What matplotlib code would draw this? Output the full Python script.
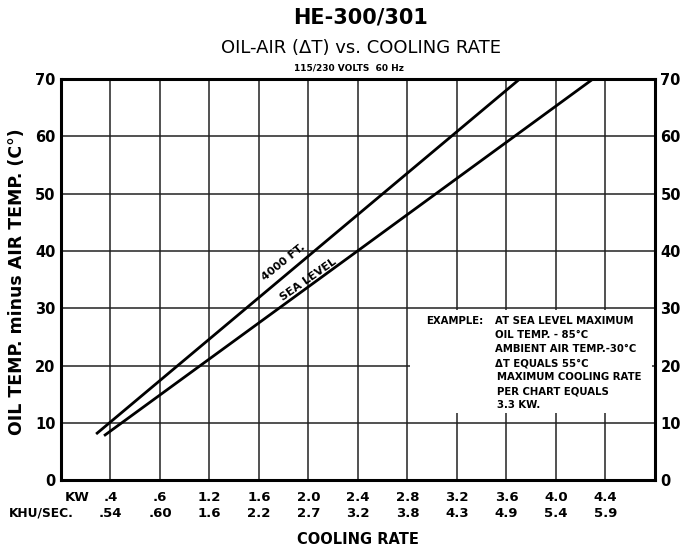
import matplotlib
matplotlib.use("Agg")
import matplotlib.pyplot as plt
from matplotlib.patches import Rectangle

# --- chart data (x in grid-column units, y in deg C) ---
kw_labels = ['.4', '.6', '1.2', '1.6', '2.0', '2.4', '2.8', '3.2', '3.6', '4.0', '4.4']
khu_labels = ['.54', '.60', '1.6', '2.2', '2.7', '3.2', '3.8', '4.3', '4.9', '5.4', '5.9']
y_ticks = [0, 10, 20, 30, 40, 50, 60, 70]

# straight lines: start point, the crossing read at 40, end at top border
ft4000_x = [0.71, 5.12, 9.27]
ft4000_y = [8.1, 40, 70]
sea_x = [0.87, 5.99, 10.75]
sea_y = [7.8, 40, 70]

example_lines = ['AT SEA LEVEL MAXIMUM', 'OIL TEMP. - 85°C', 'AMBIENT AIR TEMP.-30°C',
                 'ΔT EQUALS 55°C', 'MAXIMUM COOLING RATE', 'PER CHART EQUALS', '3.3 KW.']

plt.rcParams['font.family'] = ['DejaVu Sans']

fig = plt.figure(figsize=(6.85, 5.47), dpi=100)
ax = fig.add_axes([0.089, 0.1216, 0.867, 0.734])

ax.set_xlim(0, 12)
ax.set_ylim(0, 70)

# --- grid ---
for gx in range(1, 12):
    ax.axvline(gx, color='#222222', lw=1.1, zorder=1)
for gy in y_ticks[1:-1]:
    ax.axhline(gy, color='#222222', lw=1.1, zorder=1)

# white box behind the example note
ax.add_patch(Rectangle((7.05, 11.8), 4.9, 18.0, facecolor='white', edgecolor='none', zorder=2))

# --- curves ---
ax.plot(ft4000_x, ft4000_y, color='black', lw=2, zorder=3, solid_capstyle='butt')
ax.plot(sea_x, sea_y, color='black', lw=2, zorder=3, solid_capstyle='butt')

ax.text(4.5, 38.0, '4000 FT.', rotation=39, ha='center', va='center',
        fontsize=8, fontweight='bold', zorder=4)
ax.text(5.0, 35.0, 'SEA LEVEL', rotation=35, ha='center', va='center',
        fontsize=8, fontweight='bold', zorder=4)

# --- example note ---
ax.text(7.37, 27.8, 'EXAMPLE:', ha='left', va='center', fontsize=7.3,
        fontweight='bold', zorder=4)
for i, line in enumerate(example_lines):
    xoff = 8.77 if i < 4 else 8.82
    ax.text(xoff, 27.8 - i * 2.45, line, ha='left', va='center', fontsize=7.3,
            fontweight='bold', zorder=4)

for side in ['left', 'right', 'top', 'bottom']:
    ax.spines[side].set_linewidth(2.2)
    ax.spines[side].set_zorder(5)

# --- axes labels ---
ax.set_yticks(y_ticks)
ax.set_yticklabels([str(v) for v in y_ticks], fontsize=10.5, fontweight='bold')
ax.tick_params(axis='y', length=0, pad=4, labelright=True)
ax.set_xticks([])

# two-row x labels
for i, (kw, khu) in enumerate(zip(kw_labels, khu_labels)):
    ax.text(i + 1, -3.0, kw, ha='center', va='center', fontsize=9.5, fontweight='bold',
            clip_on=False)
    ax.text(i + 1, -5.7, khu, ha='center', va='center', fontsize=9.5, fontweight='bold',
            clip_on=False)
ax.text(0.33, -3.0, 'KW', ha='center', va='center', fontsize=9.5, fontweight='bold', clip_on=False)
ax.text(0.25, -5.7, 'KHU/SEC.', ha='right', va='center', fontsize=8.8, fontweight='bold', clip_on=False)

ax.text(6.0, -10.3, 'COOLING RATE', ha='center', va='center', fontsize=10.5, fontweight='bold', clip_on=False)

fig.text(0.025, 0.485, 'OIL TEMP. minus AIR TEMP. (C°)', rotation=90, ha='center', va='center',
         fontsize=12.5, fontweight='bold')

# --- titles ---
fig.text(0.527, 0.968, 'HE-300/301', ha='center', va='center', fontsize=15, fontweight='bold')
fig.text(0.527, 0.913, 'OIL-AIR (ΔT) vs. COOLING RATE', ha='center', va='center', fontsize=13)
fig.text(0.51, 0.875, '115/230 VOLTS  60 Hz', ha='center', va='center', fontsize=6.5, fontweight='bold')

fig.savefig('out.png', dpi=100)
